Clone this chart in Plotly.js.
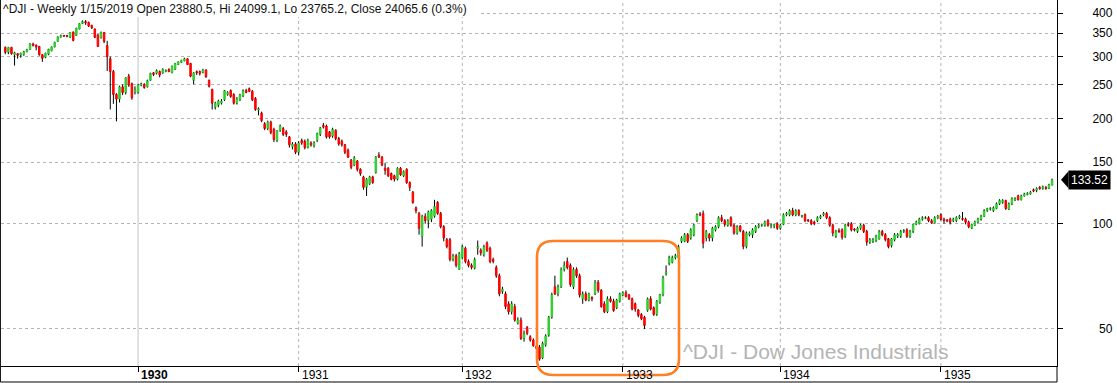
<!DOCTYPE html>
<html><head><meta charset="utf-8">
<script src="https://cdn.plot.ly/plotly-3.0.1.min.js"></script>
<style>html,body{margin:0;padding:0;background:#fff;overflow:hidden}#chart{width:1117px;height:383px}</style>
</head><body><div id="chart"></div>
<script>
// Weekly DJIA bars, Mar 1929 - Sep 1935
const openP = [
319,309,319,304,306,303,304,310,315,326,
324,321,304,299,305,312,320,332,341,345,
345,341,353,345,360,373,378,376,369,360,
346,340,352,323,296,272,234,227,246,237,
264,251,238,237,249,250,246,257,270,269,
272,270,272,276,270,276,285,289,292,296,
287,257,272,272,271,275,257,242,215,218,
221,226,234,240,234,221,226,232,240,243,
239,228,211,207,193,187,195,186,173,185,
187,183,177,166,169,160,173,172,165,170,
167,173,180,191,190,183,178,185,175,172,
168,162,152,147,151,143,136,127,130,136,
140,157,155,144,144,139,137,134,144,137,
143,131,123,111,107,92,105,102,103,105,
115,107,98,90,90,79,81,74,80,85,
78,76,74.5,85,84,81.5,88,85,79,75,
71,64,63,59,56,58,52,53,47,50.5,
47.5,46.5,44.6,44.4,41.3,45,48,54,66,63,
66,74,78,76,66,74,71,61,63,60.5,
61.5,63,68,64.5,59,56,61,60,57.5,60,
62.5,63.5,62.5,61,59,56.7,55,54,56.5,61,
57.5,55,59.6,62.7,72,77,77.5,80,80,89,
89,93,91,93,102,106.5,107,91,93,91,
96,98,104,102,99,104,99,94,98.5,95,
86,93,93,95,98,99,99,102,99,98.5,
100,97,99.5,106,106,109,106,109,105,106,
102.5,102,101,102,104,106,107,104,99,92,
95.5,96,92,99.5,100,96.5,95,97,99,95,
88.5,89,89.5,90.5,95,93,90.5,86.5,90,92,
92,95,96,92,95,99.5,100,103,103.5,104,
102,100.5,104,106,103,102.5,103,102,102,104,
103.5,103,101,97,99,101,103,105,109,110,
109,110.5,114,115,116.5,110,114,117,120,117,
120,121,121.5,125,124.5,127,126,127,126,129
];
const highP = [
321,320,320,310,307,308,312,316,328,329,
325,322,305,308,316,321,331,343,347,346,
346,353,354,363,374,381,382,378,370,361,
348,354,353,333,300,275,236,248,250,262,
268,253,247,251,253,252,258,270,271,276,
274,278,276,278,283,288,291,294,298,297,
288,271,274,274,277,276,258,243,223,226,
227,241,239,242,236,230,235,242,243,245,
241,230,215,209,195,197,197,188,185,192,
189,185,178,171,171,172,175,174,175,172,
172,182,189,194,192,184,188,186,177,174,
169,164,153,156,152,144,137,135,137,137,
156,160,156,149,145,140,138,145,145,142,
144,132,124,112,108,106,107,109,110,117,
116,108,99,91,91,82,82,83,87,86,
79,77,80,89.5,85,87,89,86,80,76,
72,66,64,60,60,59,54,54,49.5,51,
48,47,45,45,46,48.3,54.5,63.5,71,67,
75,78,80,77,75,75,72,64,64,63.5,
62,69,69,65,60,62,62,61,61,63.5,
64,64.5,63,61.5,59.5,57,55.5,54.5,61.5,62,
58,60.5,63,71,76,81,81,82,87,92,
94,94,97,100,107,108,109,96,94,98,
99,105,106,103,103,105,100,99,99,96,
95,95,97,99,100,100,102,103,100,100,
101,100,107,108,110,111,110,110,106,107,
103,103,102,105,106,108,108,105,100,96,
97,97,100,101,101,97,98,100,100,96,
91,91,93,96,96,94,91,91,94,94,
96,96.5,97,96,100,102,104,105,105,105,
103,105,106,107,104,103,104,104,105,106,
108,104,102,100,102,104,106,110,111,111.5,
112,115,117.5,117.5,117,115,119,119,121,121,
122.5,123,124,126,127,128,128.5,128,130,134.5
];
const lowP = [
305,305,304,283,296,298,302,309,314,321,
313,302,290,297,303,311,319,331,340,342,
341,339,332,344,359,372,370,365,360,339,
320,338,328,273,212,220,196,222,233,234,
246,226,234,235,247,243,245,256,264,267,
262,268,271,271,269,275,284,288,291,284,
262,250,266,265,269,261,245,212,212,215,
219,224,232,229,219,219,224,230,236,238,
224,210,204,195,185,185,180,171,171,183,
178,177,165,163,158,157,168,163,164,166,
165,171,178,187,175,175,176,173,167,166,
158,154,143,146,141,137,125,120,129,130,
139,154,146,138,136,133,132,133,137,136,
130,124,114,107,93,86,100,97,101,104,
106,97,89,85,78,78,75,73.8,79,77,
75,74,74,81.5,81,80.5,83,77,77,70,
62,63,57,55,55,52.5,51.5,46.5,46,48,
46,44.5,43.7,40.6,41,44.5,47.5,53.5,62.5,62,
65.5,73,74,66,65,70,61.5,59,60,60,
60,62.5,63.5,57.5,55.5,55.5,59.5,56,57,59.5,
62,61.5,60.5,56.5,56,54,53,50,56,56.5,
54.5,54.5,59,62,71,76,77,79,79.5,88,
88.5,88,90,92,101,105,85,89,89,89,
95,97,101,98,98,98,93,93,94.5,84.5,
85,92,91,94,97,98,98,98,97,97,
96,96,99,105,105,105,105,105,104,101,
101,99,99,101,103,105,103,98,92,91,
94,90,91,98,95,95,94,96,94,86.5,
87.5,88,88.5,90,92,89,85,85.5,89,91,
91,94,91,91,94,99,99.5,102,103,101,
100,100,103,102,100,101,99.5,101,101,103,
102,99.5,97,96.5,98.5,100,102,104.5,108,109,
108,110,113,114,109.5,109.5,113,116,116.5,116.5,
119.5,120.5,121,123,123,125,125,125,125.5,128.5
];
const closeP = [
309,319,306,308,303,307,310,314,326,323,
320,304,297,307,315,320,330,342,345,344,
343,352,334,362,373,378,375,367,363,341,
321,352,332,300,272,234,227,246,237,261,
249,229,241,249,251,245,256,269,267,274,
266,276,274,272,282,287,290,293,296,285,
264,270,270,269,275,263,247,221,221,224,
224,240,237,231,221,228,233,240,237,239,
226,212,213,197,187,195,182,174,184,190,
180,180,168,169,160,170,170,165,173,168,
170,181,188,189,177,177,186,175,169,168,
160,155,145,154,143,139,127,134,136,131,
155,155,147,142,137,134,134,144,138,141,
131,127,115,109,97,105,102,108,109,112,
107,98,91,86,79,81,76,82,86,78,
76,75,79,86,82.5,86,84,78,78,71,
63,65,58,56,59,53,53,47,48.5,48.6,
46.5,44.8,44,41,45.5,47.8,54,62.7,63,66,
74,76,75,67,74,71,62.5,63,60.5,63,
61,68,64.5,58,56,61,60,56.5,60.5,63,
63.5,62,61,57,57,54.7,53.5,51.2,61,57,
55,60,62.7,70,72.7,80,80,81,86,91,
93,89,96,99,106,106,88,95,91,97,
98,104,102,99.5,102,99,94,98,95.5,86,
94,94,96,98,99,99.5,101,99,99.5,99.5,
97,99,106,107,109,106,109,106,105.5,102,
102,100,100,104,105,107,104,99,94,95,
95,91.5,99,99,96,96,97,99,95,88.5,
90,90,92,95,93,90,86,90.5,93,93,
95,95.5,92,95,99.5,101,103,104,104,102,
100.5,104,105,103,102,102,101,103,104,105,
103,101,98,99.5,101,103,105,109,110.5,110.5,
111,114,116.5,116.5,110.5,114,118,118,117,120,
121.5,122,123,124,126,126,127.5,126,129,133.52
];
// first weekly bar of each calendar year, and its label
const yearStartBar = [43, 95, 148, 200, 251, 303];
const yearLabels = ['1930', '1931', '1932', '1933', '1934', '1935'];
const priceTicks = [50, 100, 150, 200, 250, 300, 350, 400];
const priceTickText = ['\u00a0\u00a050', '100', '150', '200', '250', '300', '350', '400'];
const headerText = '^DJI - Weekly 1/15/2019 Open 23880.5, Hi 24099.1, Lo 23765.2, Close 24065.6 (0.3%)';
const watermarkText = '^DJI - Dow Jones Industrials';
const lastPrice = 133.52;

const FONT = 'Liberation Sans, Arial, sans-serif';
const GREEN = '#33cc33', RED = '#ff0000';
const n = closeP.length;
const bars = closeP.map((_, i) => i);
const bodyHi = bars.map(i => Math.max(openP[i], closeP[i]));
const bodyLo = bars.map(i => Math.min(openP[i], closeP[i]));

// wick segments above and below each body
const wx = [], wy = [];
for (let i = 0; i < n; i++) {
  if (highP[i] > bodyHi[i]) { wx.push(i, i, null); wy.push(bodyHi[i], highP[i], null); }
  if (lowP[i] < bodyLo[i]) { wx.push(i, i, null); wy.push(lowP[i], bodyLo[i], null); }
}

const wicks = {
  type: 'scatter', mode: 'lines', x: wx, y: wy,
  line: {color: '#000000', width: 1}, hoverinfo: 'skip', showlegend: false
};
const bodies = {
  type: 'candlestick', x: bars, open: openP, close: closeP, high: bodyHi, low: bodyLo,
  increasing: {line: {color: GREEN, width: 1}, fillcolor: GREEN},
  decreasing: {line: {color: RED, width: 1}, fillcolor: RED},
  whiskerwidth: 0, hoverinfo: 'skip', showlegend: false
};

const yr0 = 1.5932, yr1 = 2.6392;
const PW = 1056, PH = 366;
const shapes = [];
yearStartBar.forEach((b, k) => {
  shapes.push({type: 'line', xref: 'x', yref: 'paper', x0: b, x1: b, y0: 0, y1: 1, layer: 'below',
    line: {color: k === 0 ? '#c4c4c4' : '#b4b4b4', width: 1, dash: k === 0 ? 'solid' : 'dot'}});
});
const yb = -16 / PH;
const xl = -0.6 / PW;
shapes.push({type: 'line', xref: 'paper', yref: 'paper', x0: xl, x1: xl, y0: yb, y1: 1, line: {color: '#000', width: 1}});
shapes.push({type: 'line', xref: 'paper', yref: 'paper', x0: xl, x1: 1, y0: yb, y1: yb, line: {color: '#000', width: 1}});
shapes.push({type: 'line', xref: 'paper', yref: 'paper', x0: 1, x1: 1, y0: yb, y1: 0, line: {color: '#000', width: 1}});
// white band behind header text
shapes.push({type: 'rect', xref: 'paper', yref: 'paper', layer: 'above',
  x0: 0.0005, x1: 477 / PW, y0: 1 - 17 / PH, y1: 1, fillcolor: '#ffffff', line: {width: 0}});
// orange highlight box with rounded corners
(function () {
  const x0 = 536 / PW, x1 = 678 / PW, yT = (PH - 241) / PH, yB = (PH - 375) / PH;
  const rx = 16 / PW, ry = 16 / PH;
  const p = `M ${x0 + rx} ${yT} L ${x1 - rx} ${yT} Q ${x1} ${yT} ${x1} ${yT - ry} L ${x1} ${yB + ry} ` +
    `Q ${x1} ${yB} ${x1 - rx} ${yB} L ${x0 + rx} ${yB} Q ${x0} ${yB} ${x0} ${yB + ry} L ${x0} ${yT - ry} ` +
    `Q ${x0} ${yT} ${x0 + rx} ${yT} Z`;
  shapes.push({type: 'path', xref: 'paper', yref: 'paper', path: p, layer: 'above',
    line: {color: '#ff7f27', width: 2.6}, fillcolor: 'rgba(0,0,0,0)'});
})();
// price pointer
const lpY = (Math.log10(lastPrice) - yr0) / (yr1 - yr0);
const tipX = 1060 / PW, baseX = 1067.5 / PW, hh = 8.5 / PH;
shapes.push({type: 'path', xref: 'paper', yref: 'paper',
  path: `M ${tipX} ${lpY} L ${baseX} ${lpY + hh} L ${baseX} ${lpY - hh} Z`,
  fillcolor: '#000', line: {width: 0}});

const annotations = [];
yearStartBar.forEach((b, k) => {
  annotations.push({xref: 'x', yref: 'paper', x: b, y: -9 / PH, xanchor: 'left', yanchor: 'middle',
    xshift: 1, showarrow: false, text: k === 0 ? '<b>' + yearLabels[k] + '</b>' : yearLabels[k],
    font: {family: FONT, size: 12, color: '#000'}});
});
annotations.push({xref: 'paper', yref: 'paper', x: 949 / PW, y: 15 / PH, xanchor: 'right', yanchor: 'middle',
  showarrow: false, text: watermarkText, font: {family: FONT, size: 21, color: '#b4b4b4'}});
annotations.push({xref: 'paper', yref: 'y', x: 1067 / PW, y: Math.log10(lastPrice), xanchor: 'left', yanchor: 'middle',
  showarrow: false, text: lastPrice.toFixed(2), bgcolor: '#000', borderpad: 2,
  font: {family: FONT, size: 12, color: '#ffffff'}});

const layout = {
  width: 1117, height: 383,
  margin: {l: 1, r: 60, t: 0, b: 17, pad: 0},
  paper_bgcolor: '#ffffff', plot_bgcolor: '#ffffff',
  font: {family: FONT, size: 12, color: '#000'},
  showlegend: false,
  title: {text: headerText, x: 3 / 1117, xanchor: 'left', xref: 'container', y: 1 - 9 / 383, yanchor: 'middle', yref: 'container',
    font: {family: FONT, size: 12, color: '#111111'}},
  xaxis: {range: [-1.39, 340.6], showgrid: false, zeroline: false, rangeslider: {visible: false},
    tickmode: 'array', tickvals: yearStartBar, ticktext: yearLabels, showticklabels: false,
    ticks: 'outside', ticklen: 5, tickcolor: '#000', showline: true, linecolor: '#000', linewidth: 1, fixedrange: true},
  yaxis: {type: 'log', range: [yr0, yr1], side: 'right', showgrid: true, gridcolor: '#b4b4b4', griddash: 'dot', gridwidth: 1,
    zeroline: false, tickmode: 'array', tickvals: priceTicks, ticktext: priceTickText,
    ticks: 'outside', ticklen: 5, tickcolor: '#000', ticklabelstandoff: 27,
    showline: true, linecolor: '#000', linewidth: 1, tickfont: {family: FONT, size: 12, color: '#000'}, fixedrange: true},
  shapes: shapes,
  annotations: annotations
};

Plotly.newPlot('chart', [wicks, bodies], layout, {staticPlot: true, displayModeBar: false});
</script>
</body></html>
